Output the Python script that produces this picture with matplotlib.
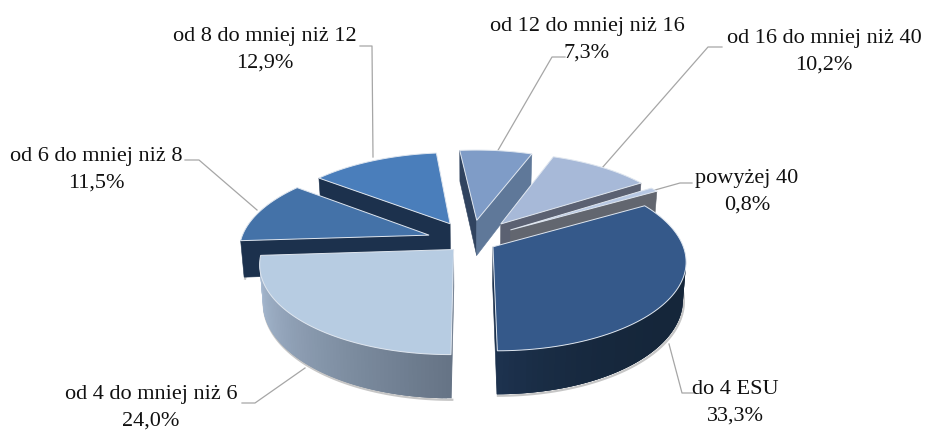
import numpy as np
import matplotlib
matplotlib.use('Agg')
import matplotlib.pyplot as plt
from matplotlib.patches import Polygon
from matplotlib.colors import to_rgb

# Chart data
categories = ['do 4 ESU', 'od 4 do mniej niż 6', 'od 6 do mniej niż 8', 'od 8 do mniej niż 12',
              'od 12 do mniej niż 16', 'od 16 do mniej niż 40', 'powyżej 40']
shares = [33.3, 24.0, 11.5, 12.9, 7.3, 10.2, 0.8]

# Slice styling
explode = [0.133, 0.133, 0.235, 0.235, 0.25, 0.26, 0.25]
top_colors = ['#35598a', '#b7cce2', '#4472a8', '#4a7ebb', '#7f9cc7', '#a7b9d8', '#b7c8e4']
start_wall = ['#1c314d', '#667486', '#1c314d', '#1c314d', '#30435f', '#5b6172', '#62666f']
end_wall = ['#1c314d', '#667486', '#1c314d', '#1c314d', '#5f7899', '#5b6172', '#62666f']
arc_from = ['#15263a', '#667486', '#1c314d', '#1c314d', '#5f7899', '#5b6172', '#62666f']
arc_to = ['#1d324e', '#a9bcd3', '#1c314d', '#1c314d', '#5f7899', '#5b6172', '#62666f']
arc_power = [4, 1, 1, 1, 1, 1, 1]
draw_order = [4, 5, 6, 3, 2, 1, 0]

# Label centres and leader lines
label_xy = [(735, 403), (151, 408), (96, 170), (265, 50), (587, 40), (824, 52), (747, 192)]
leaders = [[(695, 393), (682, 393), (669, 344)],
           [(242, 403), (255, 403), (305, 368)],
           [(185, 160), (199, 160), (257, 210)],
           [(360, 46), (372, 46), (373, 157)],
           [(565, 57), (552, 57), (497, 152)],
           [(722, 47), (708, 47), (602, 168)],
           [(692, 183), (680, 183), (655, 190)]]

# Projection of the pie plane
cx, cy = 471, 241
rx, ry = 188.5, 86.5
persp = 0.15
depth = 36.5
start_angle = 60


def project(u, v, lower=False):
    f = 1 / (1 + persp * v)
    x = rx * u * f
    y = -ry * v * f
    if lower:
        return cx + x * 0.985, cy + y + depth * f
    return cx + x, cy + y


fig = plt.figure(figsize=(9.25, 4.3), dpi=100)
ax = fig.add_axes([0, 0, 1, 1])
ax.set_xlim(0, 925)
ax.set_ylim(430, 0)
ax.axis('off')

ends = start_angle + np.cumsum(shares) * 3.6
starts = ends - np.array(shares) * 3.6

for i in draw_order:
    th = np.radians(np.linspace(starts[i], ends[i], 80))
    mid = np.radians((starts[i] + ends[i]) / 2)
    u0, v0 = explode[i] * np.sin(mid), explode[i] * np.cos(mid)
    us = np.concatenate([[u0], u0 + np.sin(th)])
    vs = np.concatenate([[v0], v0 + np.cos(th)])
    top = np.array([project(a, b) for a, b in zip(us, vs)])
    low = np.array([project(a, b, True) for a, b in zip(us, vs)])

    # shadow below the visible rim
    ax.plot(low[1:, 0] + 1, low[1:, 1] + 1.5, color='#c6c6c6', lw=1.6, zorder=1)

    n = len(top)
    arc_vis = [k for k in range(1, n - 1) if top[k + 1, 0] < top[k, 0]]
    z = 2 + draw_order.index(i) * 2
    # radial walls
    if top[1, 0] < top[0, 0]:
        ax.add_patch(Polygon([top[0], top[1], low[1], low[0]], fc=start_wall[i], ec=start_wall[i], lw=0.4, zorder=z))
    if top[0, 0] < top[-1, 0]:
        ax.add_patch(Polygon([top[-1], top[0], low[0], low[-1]], fc=end_wall[i], ec=end_wall[i], lw=0.4, zorder=z))
    # rim, as overlapping strips for the colour ramp
    c0, c1 = np.array(to_rgb(arc_from[i])), np.array(to_rgb(arc_to[i]))
    for j, k in enumerate(arc_vis):
        t = (j / max(len(arc_vis) - 1, 1)) ** arc_power[i]
        col = tuple(c0 + (c1 - c0) * t)
        stop = min(k + 3, n - 1)
        ax.add_patch(Polygon([*top[k:stop + 1], *low[k:stop + 1][::-1]], fc=col, ec='none', zorder=z))
    # top face
    ax.add_patch(Polygon(top, fc=top_colors[i], ec='#dfe6ef', lw=0.7, joinstyle='miter', zorder=z + 1))

# Labels
for i, name in enumerate(categories):
    pct = f'{shares[i]:.1f}%'.replace('.', ',')
    ax.text(label_xy[i][0], label_xy[i][1] - 13, name, ha='center', va='center',
            fontsize=16, family='Liberation Serif', color='#111111', zorder=40)
    ax.text(label_xy[i][0], label_xy[i][1] + 13, pct, ha='center', va='center',
            fontsize=16, family='Liberation Serif', color='#111111', zorder=40)
    xs, ys = zip(*leaders[i])
    ax.plot(xs, ys, color='#a6a6a6', lw=0.9, zorder=1)

fig.savefig('out.png', dpi=100)
